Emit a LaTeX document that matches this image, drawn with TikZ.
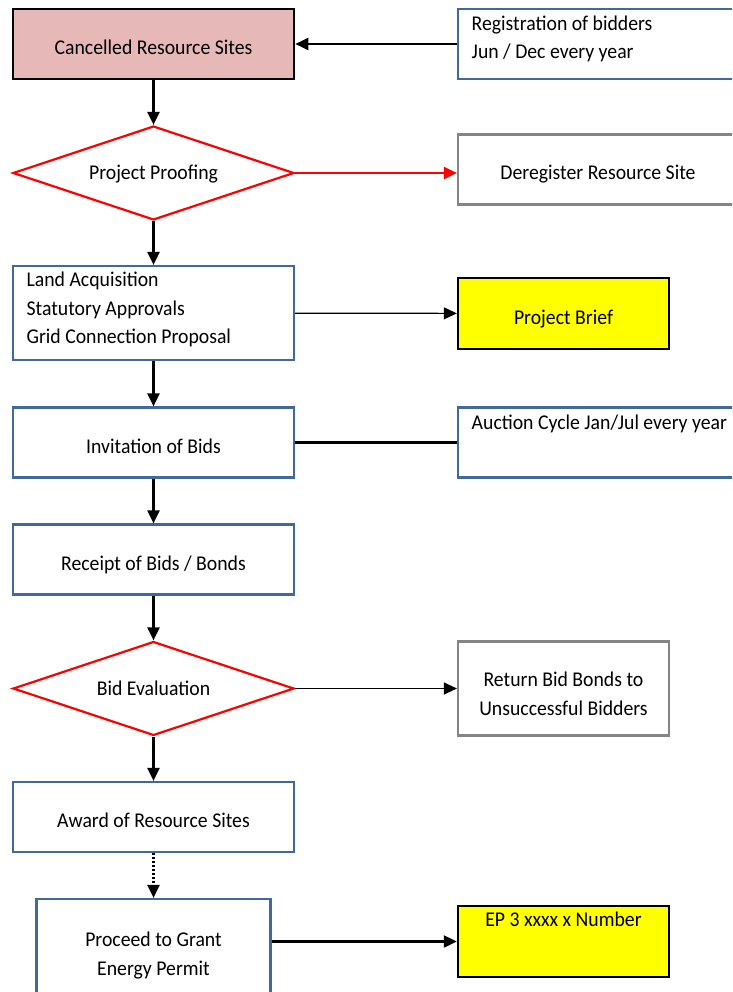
\documentclass[tikz,border=0pt]{standalone}
\usepackage{fontspec}
\setmainfont{Carlito}[FakeStretch=0.94]
\usetikzlibrary{shapes.geometric,arrows.meta}

\definecolor{sitepink}{HTML}{E6B9B8}
\definecolor{boxblue}{HTML}{41699E}
\definecolor{boxgray}{HTML}{858585}
\definecolor{briefyellow}{HTML}{FFFF00}

% text block hung from the top of a box: height, width, text
\newcommand{\toptext}[3]{\parbox[c][#1pt][t]{#2pt}{\strut#3}}

\begin{document}
\begin{tikzpicture}[x=1pt,y=-1pt,font=\fontsize{21}{28.3}\selectfont]
      \tikzstyle{oneline} = [text height=21pt, text depth=0pt]
      \tikzstyle{cancelled} = [rectangle, minimum width=281pt, minimum height=70pt, inner sep=0pt, draw=black, line width=2.6pt, fill=sitepink, oneline]
      \tikzstyle{process} = [rectangle, minimum width=281pt, minimum height=70pt, inner sep=0pt, draw=boxblue, line width=2.2pt]
      \tikzstyle{decision} = [diamond, aspect=3, minimum width=281pt, minimum height=94pt, inner sep=0pt, text height=14pt, text depth=0pt, draw=red, line width=2.2pt]
      \tikzstyle{note} = [rectangle, minimum width=302pt, minimum height=70pt, inner sep=0pt, draw=boxblue, line width=2.2pt]
      \tikzstyle{outcome} = [rectangle, minimum width=211pt, minimum height=70pt, inner sep=0pt, draw=boxgray, line width=2.2pt]
      \tikzstyle{brief} = [rectangle, minimum width=211pt, minimum height=71pt, inner sep=0pt, draw=black, line width=2.4pt, fill=briefyellow]
      \tikzstyle{arrow} = [line width=2.2pt,-{Triangle[length=13pt,width=12pt]}]
      \tikzstyle{thinarrow} = [line width=1.2pt,-{Triangle[length=13pt,width=12pt]}]

      \clip (0,0) rectangle (732,992);

      % main column
      \node (cancel) [cancelled] at (153.5,44) {Cancelled Resource Sites};
      \node (proof) [decision] at (153.5,173) {Project Proofing};
      \node (land) [process, minimum height=94pt] at (153.5,313) {\toptext{91.8}{253.8}{\raggedright Land Acquisition\\Statutory Approvals\\Grid Connection Proposal}};
      \node (invite) [process, oneline] at (153.5,442.5) {Invitation of Bids};
      \node (receipt) [process, oneline] at (153.5,559.5) {Receipt of Bids / Bonds};
      \node (bideval) [decision] at (153.5,688.5) {Bid Evaluation};
      \node (award) [process, oneline] at (153.5,817) {Award of Resource Sites};
      \node (proceed) [process, minimum width=234pt, minimum height=106pt] at (153.5,952) {\toptext{49.8}{220}{\centering Proceed to Grant\\Energy Permit}};

      % side column
      \node (regist) [note] at (609,44) {\toptext{66.6}{274.6}{\raggedright Registration of bidders\\Jun / Dec every year}};
      \node (dereg) [outcome, minimum width=280pt, oneline] at (598,169.5) {Deregister Resource Site};
      \node (brief) [brief, oneline] at (563.5,313.5) {Project Brief};
      \node (auction) [note] at (609,442.5) {\toptext{66.6}{274.6}{\raggedright Auction Cycle Jan/Jul every year}};
      \node (return) [outcome, minimum height=94pt] at (563.5,688.5) {\toptext{42.8}{200}{\centering Return Bid Bonds to\\Unsuccessful Bidders}};
      \node (permit) [brief] at (563.5,941.5) {\toptext{68.8}{200}{\centering EP 3 xxxx x Number}};

      \draw [arrow] (cancel) -- (proof);
      \draw [arrow] (proof) -- (land);
      \draw [arrow] (land) -- (invite);
      \draw [arrow] (invite) -- (receipt);
      \draw [arrow] (receipt) -- (bideval);
      \draw [arrow] (bideval) -- (award);
      \draw [arrow, dash pattern=on 2pt off 2pt] (award) -- (proceed);

      \draw [arrow] (regist) -- (cancel);
      \draw [arrow, red] (proof.east) -- (proof.east -| dereg.west);
      \draw [thinarrow] (land) -- (brief);
      \draw [line width=2.2pt] (invite) -- (auction);
      \draw [thinarrow] (bideval.east) -- (bideval.east -| return.west);
      \draw [arrow] (proceed.east |- permit.west) -- (permit.west);
\end{tikzpicture}
\end{document}
